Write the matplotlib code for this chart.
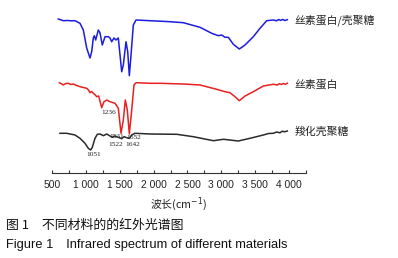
import matplotlib
matplotlib.use("Agg")
import matplotlib.pyplot as plt
from matplotlib.ticker import FixedLocator

# ---------------- data ----------------
# wavenumber (cm-1) and relative transmittance (a.u., offset per spectrum)
blue_w = [589, 663, 720, 780, 836, 910, 959, 1009, 1033, 1058, 1083, 1107, 1122, 1142, 1181, 1206,
          1240, 1280, 1329, 1354, 1379, 1413, 1442, 1477, 1502, 1527, 1551, 1591, 1616, 1640,
          1665, 1699, 1739, 1946, 2242, 2439, 2686, 2859, 2957, 3007, 3056, 3105, 3179, 3268,
          3352, 3475, 3574, 3673, 3771, 3820, 3850, 3880, 3910, 3940, 3978]
blue_t = [15.4, 15.23, 15.25, 15.22, 15.23, 14.97, 14.3, 12.5, 12.0, 11.5, 12.13, 13.5, 13.73, 13.3, 14.3, 14.0,
          12.8, 13.63, 13.63, 13.5, 13.13, 13.5, 13.3, 13.5, 11.8, 10.13, 10.8, 13.13, 12.13, 9.73,
          11.8, 14.8, 15.3, 15.23, 15.13, 15.03, 14.57, 13.97, 13.73, 13.8, 13.57, 13.57, 12.87, 12.4,
          12.8, 13.63, 14.47, 15.23, 15.3, 15.22, 15.35, 15.26, 15.36, 15.25, 15.33]

red_w = [604, 640, 663, 700, 737, 775, 811, 860, 910, 960, 1009, 1035, 1058, 1080, 1107, 1130, 1157, 1186,
         1231, 1265, 1305, 1354, 1390, 1428, 1477, 1517, 1551, 1581, 1610, 1640, 1675, 1709,
         1739, 1946, 2094, 2439, 2686, 2933, 3056, 3130, 3204, 3268, 3352, 3475, 3623, 3771,
         3830, 3860, 3890, 3920, 3950, 3978]
red_t = [9.03, 8.9, 8.8, 8.95, 8.97, 8.85, 8.9, 8.75, 8.63, 8.55, 8.47, 8.3, 8.03, 8.15, 7.97, 7.85, 7.63, 7.7,
         6.53, 7.13, 7.3, 7.13, 7.05, 6.97, 6.47, 3.97, 5.3, 7.3, 6.3, 3.9, 6.3, 8.8,
         9.03, 8.97, 8.97, 8.9, 8.8, 8.37, 8.13, 8.03, 7.63, 7.23, 7.7, 8.13, 8.7, 8.87,
         8.8, 8.93, 8.85, 8.95, 8.88, 8.97]

black_w = [614, 713, 836, 910, 984, 1033, 1068, 1092, 1132, 1166, 1206, 1255, 1305, 1354, 1393, 1428,
           1477, 1527, 1561, 1601, 1640, 1675, 1724, 1946, 2341, 2587, 2883, 3032, 3253, 3426,
           3623, 3700, 3771, 3820, 3870, 3900, 3940, 3978]
black_t = [3.97, 3.97, 3.8, 3.47, 2.97, 2.47, 2.3, 2.57, 3.47, 3.87, 3.9, 3.73, 3.9, 3.7, 3.57, 3.7,
           3.57, 3.43, 3.63, 3.53, 3.47, 3.8, 3.97, 3.9, 3.87, 3.63, 3.23, 3.37, 3.2, 3.47,
           3.8, 3.95, 3.97, 4.1, 4.02, 4.18, 4.12, 4.2]

series_names = ["丝素蛋白/壳聚糖", "丝素蛋白", "羧化壳聚糖"]
series_colors = ["#1c1ce0", "#e82020", "#2a2a2a"]

peak_labels = ["1236", "1531", "1652", "1522", "1642", "1051"]
peak_label_pos = [(1329, 6.0), (1458, 3.62), (1699, 3.55), (1440, 2.82), (1687, 2.82), (1117, 1.87)]

xticks_major = [500, 1000, 1500, 2000, 2500, 3000, 3500, 4000]
xtick_labels = ["500", "1 000", "1 500", "2 000", "2 500", "3 000", "3 500", "4 000"]
xticks_minor = [750, 1250, 1750, 2250, 2750, 3250, 3750, 4250]

# ---------------- figure ----------------
cjk = ["Noto Sans CJK SC", "DejaVu Sans"]
fig = plt.figure(figsize=(3.98, 2.58), dpi=100)
ax = fig.add_axes([52.3 / 398, 1 - 173 / 258, (305.7 - 52.3) / 398, 173 / 258])
ax.set_xlim(500, 4250)
ax.set_ylim(0, 17.3)

for w, t, c in zip([blue_w, red_w, black_w], [blue_t, red_t, black_t], series_colors):
    ax.plot(w, t, color=c, lw=1.1, solid_joinstyle="round")

label_y = [t[-1] for t in (blue_t, red_t, black_t)]
for name, y in zip(series_names, label_y):
    ax.text(4090, y - 0.1, name, fontsize=7.8, family=cjk, ha="left", va="center",
            color="#222222", clip_on=False)

for lab, (x, y) in zip(peak_labels, peak_label_pos):
    ax.text(x, y, lab, fontsize=5.3, family="Liberation Serif", ha="center", va="center",
            color="#222222")

for s in ["top", "left", "right"]:
    ax.spines[s].set_visible(False)
ax.spines["bottom"].set_color("#333333")
ax.spines["bottom"].set_linewidth(0.8)
ax.set_yticks([])
ax.xaxis.set_major_locator(FixedLocator(xticks_major))
ax.set_xticklabels(xtick_labels, family="Liberation Sans", fontsize=7.4, color="#222222")
ax.xaxis.set_minor_locator(FixedLocator(xticks_minor))
ax.tick_params(axis="x", which="both", direction="in", length=2.5, width=0.8, color="#333333", pad=5)

fig.text(179 / 398, 1 - 204 / 258, "波长(cm$^{-1}$)", family=cjk, fontsize=7.8,
         ha="center", va="center", color="#222222")
fig.text(6 / 398, 1 - 225 / 258, "图 1　不同材料的的红外光谱图", family=cjk, fontsize=9.3,
         ha="left", va="center", color="#111111")
fig.text(6 / 398, 1 - 245 / 258, "Figure 1　Infrared spectrum of different materials",
         family=["Liberation Sans", "Noto Sans CJK SC"], fontsize=9.3, ha="left", va="center",
         color="#111111")

fig.savefig("out.png", dpi=100)
